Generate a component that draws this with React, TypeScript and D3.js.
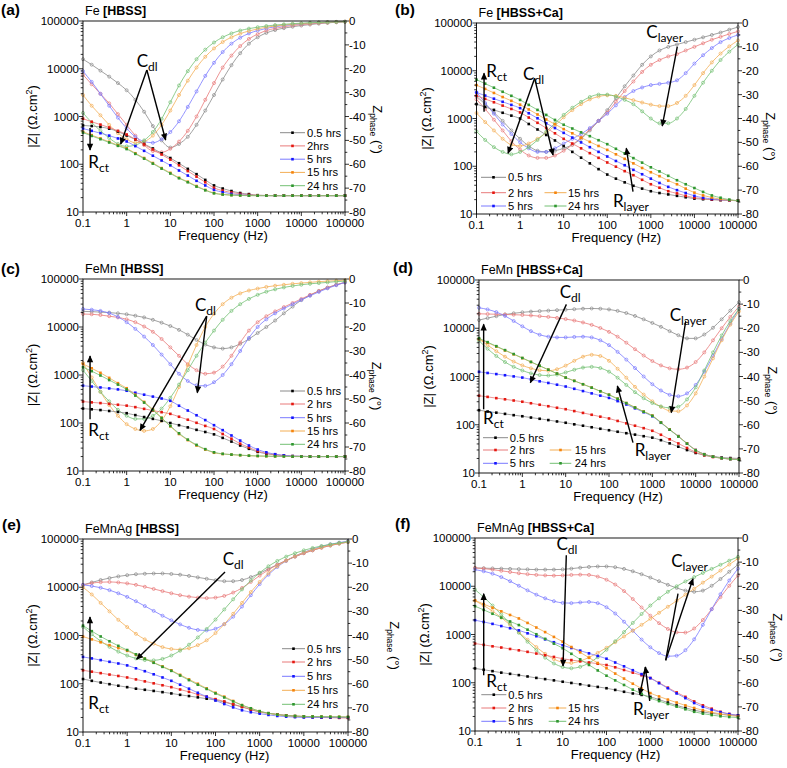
import React from 'react';
import * as d3 from 'd3';

// ---------------- DATA ----------------
const FREQ = [0.1,0.158,0.251,0.398,0.631,1,1.58,2.51,3.98,6.31,10,15.8,25.1,39.8,63.1,100,158,251,398,631,1000,1580,2510,3980,6310,10000,15800,25100,39800,63100,100000];

const X_TICKS = [0.1,1,10,100,1000,10000,100000];
const X_TICK_LABELS = ['0.1','1','10','100','1000','10000','100000'];
const Z_TICKS = [10,100,1000,10000,100000];
const Z_TICK_LABELS = ['10','100','1000','10000','100000'];
const PHASE_TICKS = [0,-10,-20,-30,-40,-50,-60,-70,-80];

const SERIES_LABELS = ['0.5 hrs','2 hrs','5 hrs','15 hrs','24 hrs'];
const SERIES_LABELS_A = ['0.5 hrs','2hrs','5 hrs','15 hrs','24 hrs'];

// Panel (a) Fe [HBSS]
const feHbssZ = [
  [650,631,603,556,484,400,331,266,214,170,135,105,80,62,47,36,31,27.5,25,23.7,22.5,22.2,22,22,22,22,22,22,22,22,22],
  [900,776,676,589,501,420,331,260,204,160,125,95,72,55,42,32,28,25.7,24,22.9,22.3,22.1,22,22,22,22,22,22,22,22,22],
  [560,501,447,398,347,300,240,191,151,120,95,74,58,45,36,29,26,24,22.9,22.4,22,22,22,22,22,22,22,22,22,22,22],
  [480,407,347,295,251,215,170,135,106,83,66,52,43,35,29,25,23.4,22.6,22.3,22.1,22,22,22,22,22,22,22,22,22,22,22],
  [460,392,335,286,243,208,165,131,103,81,64,51,42,34,28.5,24.6,23.2,22.5,22.2,22,22,22,22,22,22,22,22,22,22,22,22],
];
const feHbssP = [
  [-16,-18.3,-20.8,-23.3,-26,-29,-33,-38,-44,-50,-53,-51.5,-48.5,-43.5,-37.5,-31,-24.5,-18.5,-13.5,-9.5,-6.8,-5,-3.8,-3,-2.4,-1.9,-1.5,-1.1,-0.8,-0.5,-0.3],
  [-22.5,-26.5,-30.5,-34.5,-39,-43.5,-48,-52,-54.5,-55,-53.5,-50.5,-46,-40,-33,-26,-19.5,-14.5,-10.5,-7.5,-5.5,-4,-3.1,-2.4,-1.9,-1.5,-1.2,-0.9,-0.7,-0.5,-0.3],
  [-21,-25.5,-30.5,-35.5,-40.5,-45,-48.5,-50.5,-51,-49.5,-46.5,-42,-36,-29.5,-23,-17.5,-13,-9.5,-7,-5.2,-4,-3.1,-2.4,-1.9,-1.5,-1.2,-0.9,-0.7,-0.5,-0.4,-0.3],
  [-31,-35.5,-39.5,-43.5,-47,-49.5,-51,-50.5,-48,-43.5,-37.5,-31,-25,-19.5,-15,-11.5,-8.8,-6.8,-5.3,-4.2,-3.3,-2.6,-2.1,-1.7,-1.4,-1.1,-0.9,-0.7,-0.5,-0.4,-0.3],
  [-38.5,-42.5,-46,-49,-51.5,-52.5,-52,-50,-46.5,-41,-34,-27,-21,-16,-12,-9,-6.8,-5.2,-4,-3.2,-2.6,-2.1,-1.7,-1.4,-1.1,-0.9,-0.7,-0.6,-0.5,-0.4,-0.3],
];

// Panel (b) Fe [HBSS+Ca]
const feCaZ = [
  [2000,1738,1514,1318,1148,1000,767,589,452,347,265,200,151,115,87,67,55,46,39,34,30,27.5,25.7,24,22.4,21,20.4,20,19.5,19.3,19],
  [3000,2570,2188,1862,1585,1340,1047,813,631,490,375,299,237,188,150,120,98,79,65,52,42,35.5,30,27,24,22,21,20.2,19.7,19.3,19],
  [3500,3020,2600,2239,1928,1650,1288,1012,794,631,500,398,316,251,200,160,129,105,84,68,55,44.7,37,31.6,27.5,24,21.9,20.7,20,19.4,19],
  [5000,4169,3428,2818,2344,1950,1549,1216,955,759,600,490,398,324,266,220,178,143,115,92,75,62,50,42,34,28,24.5,22.1,20.4,19.5,19],
  [6500,5370,4416,3631,2985,2450,1928,1514,1189,933,740,617,513,427,351,290,232,186,148,119,95,78,63,51,42,35,29,24.5,21.9,20,19],
];
const feCaP = [
  [-30.7,-34,-37.5,-41,-45,-48.5,-51.5,-53.5,-54,-53.5,-52.5,-51,-48.5,-45,-41,-36.5,-31.5,-26.5,-22,-17.5,-14,-11.5,-10,-9,-8,-7,-6,-5,-4,-2.8,-1.7],
  [-32,-36,-40.5,-45,-49.5,-53,-55.5,-56.5,-56.5,-55.5,-53.5,-51,-48,-44.5,-41,-37.5,-33,-28.5,-24.5,-20.5,-17.5,-15.5,-14,-13,-11.5,-10,-8.5,-7,-5.8,-4.6,-3.5],
  [-29,-33.5,-38,-42.5,-46.5,-50,-52.5,-54,-54,-52.5,-50.5,-48.5,-46.5,-44,-41,-38,-34.5,-31,-28.5,-27,-26,-25.5,-25,-24,-21,-17,-13.5,-10.5,-8,-6.3,-5],
  [-37.7,-41.5,-45,-48.5,-51,-51.5,-50.5,-48.5,-46,-43,-39.5,-36.5,-34,-32,-30.8,-30.3,-30.5,-31.3,-32.3,-33.3,-34.2,-34.8,-34.8,-33.5,-30.5,-26,-21,-16.5,-12.8,-9.8,-7.3],
  [-45.4,-49,-52,-54,-55,-54,-52,-49,-45.5,-42,-38.5,-35.5,-33,-31,-30,-30,-30.8,-32.2,-34,-37,-40,-42,-42,-40,-36,-30.5,-25,-20,-15.5,-12,-9],
];

// Panel (c) FeMn [HBSS]
const feMnHbssZ = [
  [200,193,186,178,170,160,146,133,122,111,100,90,81,72,65,58,49,41,34,29,25,22.9,21.6,20.9,20.4,20.2,20,20,20,20,20],
  [280,269,260,251,240,230,214,197,182,168,155,135,117,101,87,75,59,47,37,31,26,23.4,21.9,20.9,20.4,20.2,20,20,20,20,20],
  [600,575,550,525,501,470,427,389,355,324,290,229,182,145,115,90,71,55,43,34,28,24.5,22.4,21.1,20.4,20.2,20,20,20,20,20],
  [1700,1380,1109,871,676,530,389,275,193,129,85,59,44,34,28,24,22.6,21.9,21.3,20.8,20.5,20.3,20.2,20.1,20,20,20,20,20,20,20],
  [1450,1202,977,785,631,501,372,266,186,127,87,61,45,35,28.5,24.5,22.8,22,21.4,20.9,20.6,20.4,20.2,20.1,20,20,20,20,20,20,20],
];
const feMnHbssP = [
  [-13.5,-13.6,-13.8,-14,-14.3,-14.7,-15.3,-16,-17,-18.2,-19.6,-21.2,-23.2,-25.4,-27.3,-28.5,-29,-28.5,-27,-25,-22.5,-20,-17.3,-14.3,-11.5,-8.8,-6.8,-5,-3.6,-2.4,-1.4],
  [-14.6,-14.7,-15,-15.5,-16,-16.8,-18,-19.8,-22,-25,-28.5,-32,-35.5,-38,-39.5,-39,-36.5,-32,-26.5,-21.5,-18,-15.5,-13.5,-11.7,-10,-8.3,-6.6,-5,-3.6,-2.4,-1.4],
  [-12.5,-12.8,-13.3,-14.2,-15.8,-18,-20.8,-24,-27.5,-31.5,-35.5,-39.5,-42.5,-44.3,-44.5,-43,-40,-35.5,-30,-24.5,-20,-16.8,-14.3,-12.3,-10.5,-8.7,-7,-5.4,-3.9,-2.6,-1.4],
  [-35,-41,-47,-52.5,-57,-60.5,-62.5,-63.3,-62.5,-59,-53,-45,-36,-27.5,-20,-14.5,-10.5,-7.8,-6,-4.8,-4,-3.3,-2.8,-2.4,-2,-1.7,-1.4,-1.1,-0.9,-0.7,-0.5],
  [-38,-42.5,-47,-51,-54.5,-57,-58.3,-58.3,-57,-54,-49.5,-44,-38,-32,-26.5,-21.5,-17,-13.3,-10.5,-8.3,-6.6,-5.3,-4.3,-3.5,-2.9,-2.4,-2,-1.7,-1.4,-1.1,-0.9],
];

// Panel (d) FeMn [HBSS+Ca]
const feMnCaZ = [
  [200,188,178,168,158,150,141,133,125,117,110,102,95.5,88.7,82.6,77,71.6,66.8,62.4,57.9,54,47.9,41.2,35.1,29.9,26,23.4,21.9,20.9,20.4,20],
  [400,378,356,337,318,300,279,260,242,225,210,192,176,161,147,135,120,107,95.5,85,75,62,50,41,33,27,23.4,21.4,20.2,19.5,19],
  [1250,1183,1122,1062,1005,950,871,794,735,676,620,556,499,447,401,360,309,263,219,182,150,110,79,58,41,30,24.5,21.9,20.4,19.5,19],
  [6000,5012,4169,3467,2884,2400,1995,1660,1380,1148,950,813,692,589,495,420,347,282,229,188,155,112,80,58,41,30,24.5,21.9,20.4,19.5,19],
  [6200,5150,4250,3520,2920,2420,2010,1670,1385,1150,950,812,690,587,494,418,345,280,227,186,153,111,79,57,40.5,29.5,24.3,21.8,20.3,19.4,18.9],
];
const feMnCaP = [
  [-16.6,-15.8,-15,-14.3,-13.8,-13.4,-13.1,-12.9,-12.7,-12.5,-12.3,-12.1,-11.9,-11.8,-11.9,-12.2,-12.8,-13.7,-14.9,-16.3,-17.8,-19.4,-21.2,-22.9,-24.2,-24.2,-22.6,-19.8,-16.3,-12.7,-9.2],
  [-14,-14.1,-14.2,-14.3,-14.4,-14.5,-14.7,-15,-15.3,-15.7,-16.2,-16.8,-17.6,-18.6,-19.9,-21.5,-23.5,-26,-28.7,-31.3,-33.6,-35.4,-36.6,-37,-36.3,-34,-30,-25,-20,-15.3,-11],
  [-11.5,-12.2,-13.3,-14.9,-17,-19.2,-21.2,-22.7,-23.5,-23.8,-23.8,-23.6,-23.5,-23.8,-25,-27,-29.8,-33,-36.5,-40,-43.2,-45.8,-47.6,-48.2,-47,-43.5,-38,-31.5,-24.5,-18,-12],
  [-24.5,-27,-29.5,-31.8,-33.8,-35.4,-36.6,-37.4,-37.6,-37,-35.5,-33.5,-31.8,-31,-31.5,-33.5,-36.8,-40.5,-44.3,-47.5,-50.3,-52.6,-54.2,-54.4,-52,-47,-40,-32.5,-25,-18.5,-13],
  [-25.2,-28.5,-31.5,-34,-36,-37.5,-38.7,-39.4,-39.6,-39.2,-38.3,-37.2,-36.3,-36,-36.5,-38,-40.5,-43.5,-46.5,-49,-51,-52.4,-53,-52.5,-49.5,-44.5,-37.5,-30,-23,-17,-12],
];

// Panel (e) FeMnAg [HBSS]
const feMnAgHbssZ = [
  [125,115,106,98,91,85,79,75,71,67,63,59,55.6,52.2,49,46,41.7,37.2,33.1,29.2,26,24.5,23.2,22.1,21.4,21,20.7,20.4,20.2,20.1,20],
  [190,178,166,155,145,135,123,112,102,93,85,76,68,60,54,48,43,37.6,33.1,29.2,26,24.4,23,21.9,21.1,20.5,20.2,20,19.8,19.6,19.5],
  [360,335,309,285,263,240,209,182,157,135,115,95.5,79,65,54,45,38,32.4,28.2,25.7,24,22.6,21.5,20.8,20.3,20,20,20,20,20,20],
  [950,832,724,631,550,480,398,331,275,229,190,153,123,100,80,65,54,44,36,31,27,24.5,22.9,21.9,21.4,21,20.9,20.8,20.7,20.6,20.5],
  [1600,1230,955,759,610,500,407,331,272,224,185,148,119,95.5,78,63,52,43,36,31,27,24.5,22.9,21.9,21.4,21,20.9,20.8,20.7,20.6,20.5],
];
const feMnAgHbssP = [
  [-19,-18,-17,-16.2,-15.5,-15,-14.6,-14.4,-14.3,-14.3,-14.5,-14.8,-15.3,-15.9,-16.5,-17.1,-17.5,-17.5,-17,-15.8,-14.2,-12.4,-10.6,-8.9,-7.3,-5.9,-4.7,-3.6,-2.7,-1.9,-1.3],
  [-19,-18.3,-17.9,-17.8,-18,-18.4,-19,-19.8,-20.7,-21.6,-22.5,-23.3,-23.9,-24.3,-24.5,-24.3,-23.6,-22.2,-20.3,-17.8,-15.2,-12.8,-10.7,-8.9,-7.3,-5.9,-4.7,-3.6,-2.7,-1.9,-1.3],
  [-19,-19.5,-20.2,-21.2,-22.5,-24,-25.8,-27.8,-29.8,-31.8,-33.7,-35.4,-36.8,-37.7,-37.9,-37.2,-35.3,-32.2,-28,-23.3,-18.7,-14.8,-11.6,-9.1,-7.1,-5.5,-4.2,-3.1,-2.2,-1.5,-0.9],
  [-20,-23,-26.5,-30,-33.5,-36.5,-39.3,-41.6,-43.4,-44.8,-45.6,-45.8,-45.3,-44,-42,-39,-35.3,-31,-26.5,-22,-17.8,-14.2,-11.3,-9,-7.1,-5.6,-4.4,-3.4,-2.5,-1.8,-1.2],
  [-36.4,-39.5,-42.3,-44.7,-46.7,-48.3,-49.5,-50.2,-50.3,-49.7,-48.3,-46.3,-43.8,-40.8,-37.3,-33.4,-29.2,-25,-20.9,-17.2,-14,-11.3,-9.1,-7.3,-5.9,-4.7,-3.7,-2.9,-2.2,-1.6,-1.1],
];

// Panel (f) FeMnAg [HBSS+Ca]
const feMnAgCaZ = [
  [198,186,174,162,153,144,135,126,119,112,105,99,93,87,82,77,71,65,60,56,51,44.7,38.9,33.9,30.2,27,24.8,23.2,22.1,21.4,21],
  [650,610,569,537,501,470,437,403,372,343,315,295,279,263,248,233,209,184,162,143,125,100,79,63,51,41,34,29,25,22.6,21],
  [1980,1820,1660,1496,1349,1220,1059,923,794,692,600,525,462,407,359,315,263,219,182,151,125,98,77,60,48,38,31.6,27.5,24.5,22.4,21],
  [5100,4266,3589,3020,2541,2150,1738,1396,1122,891,710,550,427,331,257,200,155,122,95.5,76,61,52,44.7,38.9,33.9,30,26.9,24.5,22.6,21.1,20],
  [3860,3236,2692,2239,1862,1570,1259,1012,813,646,520,398,305,234,180,140,112,90,72,59,48,41.7,36.3,32,28.2,25,22.9,21.4,20.2,19.5,19],
];
const feMnAgCaP = [
  [-12.4,-12.5,-12.6,-12.7,-12.8,-12.9,-13,-13.1,-13.1,-13.1,-13,-12.7,-12.3,-12,-11.8,-11.8,-12.1,-12.8,-13.8,-15,-16.4,-17.9,-19.4,-20.7,-21.8,-22.3,-21.8,-19.8,-17,-14,-11],
  [-12.4,-12.7,-13.1,-13.6,-14.1,-14.6,-15,-15.3,-15.5,-15.6,-15.5,-15.3,-15.2,-15.3,-16,-17.3,-19.3,-22,-25.3,-28.8,-32.2,-35.3,-37.7,-39.1,-39.2,-37.5,-34,-29.5,-24.5,-19.8,-15.5],
  [-13.1,-13.8,-14.8,-16.2,-17.9,-19.8,-21.7,-23.5,-25,-26.2,-26.9,-27,-26.7,-26.5,-27,-28.7,-31.3,-34.7,-38.4,-42.1,-45.3,-47.7,-49,-48.8,-46.5,-42,-36,-29.5,-23.3,-17.6,-12.7],
  [-26,-28,-30.3,-33,-36,-39,-42.2,-45.2,-48,-50.2,-51.5,-51.8,-51,-49.5,-47.6,-45.5,-43.2,-40.8,-38.4,-36,-33.5,-31,-28.5,-26,-23.5,-21,-18.5,-16,-13.5,-11,-8.5],
  [-21.4,-24.5,-28,-31.7,-35.5,-39.3,-43,-46.5,-49.6,-52,-53.5,-54,-53.4,-51.8,-49.4,-46.3,-42.8,-39,-35.2,-31.5,-28,-25,-22.3,-20,-18,-16.2,-14.5,-12.8,-11.1,-9.4,-7.8],
];

// ---------------- STYLE ----------------
const Z_COLORS = ['#000000', '#e5170f', '#1414ff', '#f5840c', '#2f962f'];
const P_COLORS = ['#8a8a8a', '#e87a7a', '#7a7aff', '#f3ae55', '#74c074'];
const FONT = "'Liberation Sans', Arial, sans-serif";
const ANN_FONT = "Lato, 'Open Sans', sans-serif";

type Ann =
  | { kind: 'text'; f: number; z: number; main: string; sub: string }
  | { kind: 'arrow'; f1: number; z1: number; f2: number; z2: number; head?: boolean };

type LegendItem = { lx1: number; lx2: number; tx: number; y: number };

interface PanelProps {
  L: number; T: number; R: number; B: number;
  tag: string; tagX: number; tagY: number;
  title1: string; title2: string;
  z: number[][]; p: number[][];
  labels: string[];
  legend: LegendItem[];
  ann: Ann[];
  rdx: number; rdy: number;
}

const VERT_LEGEND = (ys: number[]): LegendItem[] => ys.map((y) => ({ lx1: 197, lx2: 222, tx: 224, y }));

function Panel(props: PanelProps) {
  const { L, T, R, B, z, p, labels, legend, ann } = props;
  const x = d3.scaleLog().domain([0.1, 100000]).range([L, R]);
  const y = d3.scaleLog().domain([10, 100000]).range([B, T]);
  const yp = d3.scaleLinear().domain([-80, 0]).range([B, T]);
  const lineZ = d3.line<number>().x((_, i) => x(FREQ[i])).y((d) => y(d)).curve(d3.curveMonotoneX);
  const lineP = d3.line<number>().x((_, i) => x(FREQ[i])).y((d) => yp(d)).curve(d3.curveMonotoneX);
  const isMajor = (t: number) => Math.abs(Math.log10(t) - Math.round(Math.log10(t))) < 1e-6;
  const xt = x.ticks();
  const yt = y.ticks();
  const pMinor = d3.range(-75, 0, 10);
  const cx = (L + R) / 2;
  const cy = (T + B) / 2;
  return (
    <g>
      {/* phase curves */}
      {p.map((s, k) => (
        <g key={'p' + k}>
          <path d={lineP(s) || ''} fill="none" stroke={P_COLORS[k]} strokeWidth={0.8} />
          {s.map((v, i) => (
            <circle key={i} cx={x(FREQ[i])} cy={yp(v)} r={1.5} fill="none" stroke={P_COLORS[k]} strokeWidth={0.7} />
          ))}
        </g>
      ))}
      {/* |Z| curves */}
      {z.map((s, k) => (
        <g key={'z' + k}>
          <path d={lineZ(s) || ''} fill="none" stroke={P_COLORS[k]} strokeWidth={0.8} />
          {s.map((v, i) => (
            <rect key={i} x={x(FREQ[i]) - 1.3} y={y(v) - 1.3} width={2.6} height={2.6} fill={Z_COLORS[k]} />
          ))}
        </g>
      ))}
      {/* frame */}
      <rect x={L} y={T} width={R - L} height={B - T} fill="none" stroke="#000" strokeWidth={0.9} />
      {/* x ticks */}
      {xt.map((t, i) => (
        <line key={'xt' + i} x1={x(t)} x2={x(t)} y1={B} y2={B + (isMajor(t) ? 4 : 2.3)} stroke="#000" strokeWidth={0.8} />
      ))}
      {X_TICKS.map((t, i) => (
        <text key={'xl' + i} x={x(t)} y={B + 15} textAnchor="middle" fontFamily={FONT} fontSize={11.5}>{X_TICK_LABELS[i]}</text>
      ))}
      {/* left y ticks */}
      {yt.map((t, i) => (
        <line key={'yt' + i} x1={L} x2={L - (isMajor(t) ? 4 : 2.3)} y1={y(t)} y2={y(t)} stroke="#000" strokeWidth={0.8} />
      ))}
      {Z_TICKS.map((t, i) => (
        <text key={'yl' + i} x={L - 4} y={y(t) + 4} textAnchor="end" fontFamily={FONT} fontSize={11.5}>{Z_TICK_LABELS[i]}</text>
      ))}
      {/* right phase ticks */}
      {PHASE_TICKS.map((t, i) => (
        <g key={'pt' + i}>
          <line x1={R} x2={R + 4} y1={yp(t)} y2={yp(t)} stroke="#000" strokeWidth={0.8} />
          <text x={R + 4} y={yp(t) + 4} fontFamily={FONT} fontSize={11.5}>{String(t)}</text>
        </g>
      ))}
      {pMinor.map((t, i) => (
        <line key={'pm' + i} x1={R} x2={R + 2.3} y1={yp(t)} y2={yp(t)} stroke="#000" strokeWidth={0.8} />
      ))}
      {/* axis titles */}
      <text x={cx + 9} y={B + 28} textAnchor="middle" fontFamily={FONT} fontSize={13}>Frequency (Hz)</text>
      <text transform={`translate(${L - 46},${cy}) rotate(-90)`} textAnchor="middle" fontFamily={FONT} fontSize={13}>
        |Z| (Ω.cm<tspan fontSize={9} dy={-5}>2</tspan><tspan dy={5}>)</tspan>
      </text>
      <text transform={`translate(${R + props.rdx},${cy + props.rdy}) rotate(90)`} textAnchor="middle" fontFamily={FONT} fontSize={13}>
        Z<tspan fontSize={8.5} dy={3}>phase</tspan><tspan dy={-3}> (°)</tspan>
      </text>
      {/* title */}
      <text x={L + 2} y={T - 6} fontFamily={FONT} fontSize={12.5}>
        {props.title1} <tspan fontWeight="bold">{props.title2}</tspan>
      </text>
      <text x={props.tagX} y={props.tagY} fontFamily={FONT} fontSize={15.5} fontWeight="bold">{props.tag}</text>
      {/* legend */}
      {legend.map((it, k) => (
        <g key={'lg' + k}>
          <line x1={L + it.lx1} x2={L + it.lx2} y1={T + it.y} y2={T + it.y} stroke={P_COLORS[k]} strokeWidth={1} />
          <rect x={L + (it.lx1 + it.lx2) / 2 - 1.3} y={T + it.y - 1.3} width={2.6} height={2.6} fill={Z_COLORS[k]} />
          <text x={L + it.tx} y={T + it.y + 4} fontFamily={FONT} fontSize={11.2}>{labels[k]}</text>
        </g>
      ))}
      {/* annotations */}
      {ann.map((a, k) =>
        a.kind === 'text' ? (
          <text key={'an' + k} x={x(a.f)} y={y(a.z)} fontFamily={ANN_FONT} fontSize={17}>
            {a.main}<tspan fontSize={12} dy={4}>{a.sub}</tspan>
          </text>
        ) : (
          <line key={'an' + k} x1={x(a.f1)} y1={y(a.z1)} x2={x(a.f2)} y2={y(a.z2)} stroke="#000" strokeWidth={1.4}
            markerEnd={a.head === false ? undefined : 'url(#ah)'} />
        )
      )}
    </g>
  );
}

export default function App() {
  return (
    <svg width={787} height={768} style={{ position: 'absolute', left: 0, top: 0, background: '#fff' }}>
      <defs>
        <marker id="ah" viewBox="0 0 10 10" refX={9} refY={5} markerWidth={8} markerHeight={7} markerUnits="userSpaceOnUse" orient="auto">
          <path d="M0,0.5 L10,5 L0,9.5 z" fill="#000" />
        </marker>
      </defs>
      <rect x={0} y={0} width={787} height={768} fill="#fff" />
      <Panel L={83} T={21} R={345} B={212} tag="(a)" tagX={1} tagY={15} title1="Fe" title2="[HBSS]"
        z={feHbssZ} p={feHbssP} labels={SERIES_LABELS_A} rdx={28} rdy={13}
        legend={VERT_LEGEND([111.7, 124.9, 138.2, 151.4, 164.7])}
        ann={[
          { kind: 'text', f: 1.7, z: 11000, main: 'C', sub: 'dl' },
          { kind: 'arrow', f1: 2.9, z1: 9400, f2: 0.73, z2: 265 },
          { kind: 'arrow', f1: 2.9, z1: 9400, f2: 7.8, z2: 322 },
          { kind: 'arrow', f1: 0.145, z1: 574, f2: 0.145, z2: 199 },
          { kind: 'text', f: 0.132, z: 83, main: 'R', sub: 'ct' },
        ]} />
      <Panel L={476.5} T={23} R={738} B={214} tag="(b)" tagX={395} tagY={15} title1="Fe" title2="[HBSS+Ca]"
        z={feCaZ} p={feCaP} labels={SERIES_LABELS} rdx={28} rdy={18}
        legend={[
          { lx1: 4.5, lx2: 29.5, tx: 31.5, y: 154.3 },
          { lx1: 4.5, lx2: 29.5, tx: 31.5, y: 169.7 },
          { lx1: 4.5, lx2: 29.5, tx: 31.5, y: 183 },
          { lx1: 68, lx2: 90, tx: 91.5, y: 169.7 },
          { lx1: 68, lx2: 90, tx: 91.5, y: 183 },
        ]}
        ann={[
          { kind: 'text', f: 1.17, z: 6400, main: 'C', sub: 'dl' },
          { kind: 'arrow', f1: 2.16, z1: 6950, f2: 0.53, z2: 187 },
          { kind: 'arrow', f1: 2.16, z1: 6950, f2: 5.7, z2: 172 },
          { kind: 'text', f: 0.168, z: 7500, main: 'R', sub: 'ct' },
          { kind: 'arrow', f1: 0.149, z1: 1390, f2: 0.149, z2: 8850 },
          { kind: 'text', f: 787, z: 47900, main: 'C', sub: 'layer' },
          { kind: 'arrow', f1: 4050, z1: 31900, f2: 1830, z2: 697 },
          { kind: 'text', f: 135, z: 14.2, main: 'R', sub: 'layer' },
          { kind: 'arrow', f1: 390, z1: 29.3, f2: 274, z2: 238 },
        ]} />
      <Panel L={83} T={279} R={345} B={471} tag="(c)" tagX={1} tagY={274} title1="FeMn" title2="[HBSS]"
        z={feMnHbssZ} p={feMnHbssP} labels={SERIES_LABELS} rdx={27} rdy={11}
        legend={VERT_LEGEND([112, 125, 138.7, 152, 165.3])}
        ann={[
          { kind: 'text', f: 36.7, z: 21500, main: 'C', sub: 'dl' },
          { kind: 'arrow', f1: 68, z1: 16900, f2: 2.02, z2: 70.5 },
          { kind: 'arrow', f1: 68, z1: 16900, f2: 41.5, z2: 428 },
          { kind: 'arrow', f1: 0.145, z1: 119, f2: 0.145, z2: 2490 },
          { kind: 'text', f: 0.132, z: 53.6, main: 'R', sub: 'ct' },
        ]} />
      <Panel L={479} T={280} R={739} B={473} tag="(d)" tagX={393} tagY={273} title1="FeMn" title2="[HBSS+Ca]"
        z={feMnCaZ} p={feMnCaP} labels={SERIES_LABELS} rdx={29} rdy={14}
        legend={[
          { lx1: 4, lx2: 29, tx: 30.7, y: 157.7 },
          { lx1: 4, lx2: 29, tx: 30.7, y: 170 },
          { lx1: 4, lx2: 29, tx: 30.7, y: 183.3 },
          { lx1: 70.7, lx2: 92.3, tx: 95.7, y: 170 },
          { lx1: 70.7, lx2: 92.3, tx: 95.7, y: 183.3 },
        ]}
        ann={[
          { kind: 'text', f: 7.3, z: 43000, main: 'C', sub: 'dl' },
          { kind: 'arrow', f1: 10.4, z1: 31300, f2: 1.53, z2: 745 },
          { kind: 'text', f: 2510, z: 14100, main: 'C', sub: 'layer' },
          { kind: 'arrow', f1: 5890, z1: 14100, f2: 2740, z2: 178 },
          { kind: 'text', f: 392, z: 22.5, main: 'R', sub: 'layer' },
          { kind: 'arrow', f1: 358, z1: 42.5, f2: 156, z2: 635 },
          { kind: 'arrow', f1: 0.128, z1: 209, f2: 0.128, z2: 12100 },
          { kind: 'text', f: 0.124, z: 102, main: 'R', sub: 'ct' },
        ]} />
      <Panel L={83} T={539} R={348} B={732} tag="(e)" tagX={2} tagY={530} title1="FeMnAg" title2="[HBSS]"
        z={feMnAgHbssZ} p={feMnAgHbssP} labels={SERIES_LABELS} rdx={42} rdy={10}
        legend={VERT_LEGEND([109.7, 123, 137.3, 151.3, 165.3]).map((it) => ({ ...it, lx1: 199, lx2: 222 }))}
        ann={[
          { kind: 'text', f: 146, z: 28500, main: 'C', sub: 'dl' },
          { kind: 'arrow', f1: 164, z1: 20700, f2: 1.64, z2: 321 },
          { kind: 'arrow', f1: 0.144, z1: 127, f2: 0.144, z2: 2420 },
          { kind: 'text', f: 0.132, z: 30.4, main: 'R', sub: 'ct' },
        ]} />
      <Panel L={475} T={538} R={738} B={731} tag="(f)" tagX={395} tagY={529} title1="FeMnAg" title2="[HBSS+Ca]"
        z={feMnAgCaZ} p={feMnAgCaP} labels={SERIES_LABELS} rdx={35} rdy={3}
        legend={[
          { lx1: 6.3, lx2: 31.3, tx: 33.3, y: 156.7 },
          { lx1: 6.3, lx2: 31.3, tx: 33.3, y: 170 },
          { lx1: 6.3, lx2: 31.3, tx: 33.3, y: 183.3 },
          { lx1: 73.7, lx2: 91.3, tx: 93, y: 170 },
          { lx1: 73.7, lx2: 91.3, tx: 93, y: 183.3 },
        ]}
        ann={[
          { kind: 'text', f: 7.2, z: 55600, main: 'C', sub: 'dl' },
          { kind: 'arrow', f1: 12.1, z1: 43700, f2: 10.2, z2: 222 },
          { kind: 'text', f: 3000, z: 25000, main: 'C', sub: 'layer' },
          { kind: 'arrow', f1: 2240, z1: 292, f2: 9400, z2: 14300 },
          { kind: 'arrow', f1: 2240, z1: 292, f2: 4280, z2: 7000, head: false },
          { kind: 'text', f: 403, z: 21.1, main: 'R', sub: 'layer' },
          { kind: 'arrow', f1: 783, z1: 212, f2: 571, z2: 56.5 },
          { kind: 'arrow', f1: 968, z1: 41.9, f2: 767, z2: 212 },
          { kind: 'text', f: 0.181, z: 81.7, main: 'R', sub: 'ct' },
          { kind: 'arrow', f1: 0.158, z1: 143, f2: 0.158, z2: 7000 },
        ]} />
    </svg>
  );
}
